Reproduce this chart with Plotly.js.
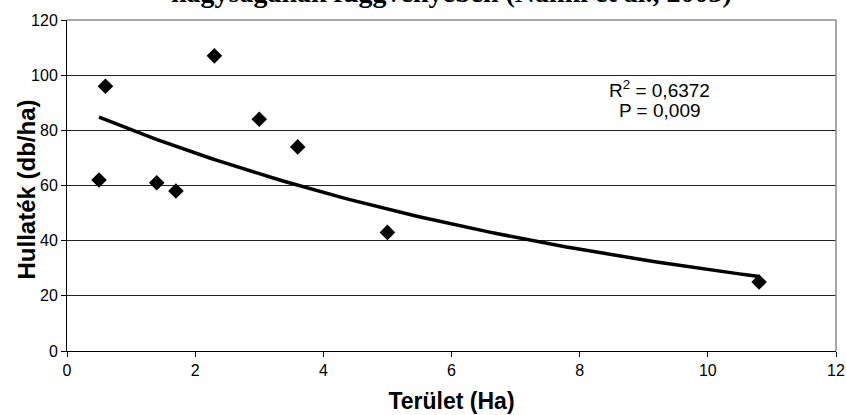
<!DOCTYPE html>
<html>
<head>
<meta charset="utf-8">
<script src="https://cdn.plot.ly/plotly-3.0.1.min.js"></script>
<style>html,body{margin:0;padding:0;background:#fff;} #chart{width:846px;height:415px;}</style>
</head>
<body>
<div id="chart"></div>
<script>
// Data
const areaHa = [0.5, 0.6, 1.4, 1.7, 2.3, 3.0, 3.6, 5.0, 10.8];
const litterPerHa = [62, 96, 61, 58, 107, 84, 74, 43, 25];
const xTicks = [0, 2, 4, 6, 8, 10, 12];
const yTicks = [0, 20, 40, 60, 80, 100, 120];
const titleText = "nagyságának függvényében (Nanni et al., 2003)";
const xTitleText = "Terület (Ha)";
const yTitleText = "Hullaték (db/ha)";
const statsText = ["R<sup>2</sup> = 0,6372", "P = 0,009"];

// Exponential trendline (least squares on ln y, as a spreadsheet does)
function expFit(xs, ys) {
  const n = xs.length;
  const ly = ys.map(Math.log);
  const mx = xs.reduce((a, b) => a + b, 0) / n;
  const my = ly.reduce((a, b) => a + b, 0) / n;
  let sxy = 0, sxx = 0;
  for (let i = 0; i < n; i++) { sxy += (xs[i] - mx) * (ly[i] - my); sxx += (xs[i] - mx) ** 2; }
  const b = sxy / sxx;
  const a = Math.exp(my - b * mx);
  return { a, b };
}
const fit = expFit(areaHa, litterPerHa);
const xMin = Math.min(...areaHa), xMax = Math.max(...areaHa);
const trendX = [], trendY = [];
for (let i = 0; i <= 100; i++) {
  const x = xMin + (xMax - xMin) * i / 100;
  trendX.push(x);
  trendY.push(fit.a * Math.exp(fit.b * x));
}

const sans = "'Liberation Sans', Arial, sans-serif";
const tickFont = { family: "'Liberation Sans Narrow', 'Arial Narrow', 'Liberation Sans', Arial, sans-serif", size: 16, color: "#000" };
const axTitleFont = { family: sans, size: 23, color: "#000" };

const traces = [
  {
    x: trendX, y: trendY, type: "scatter", mode: "lines",
    line: { color: "#000", width: 3.5 }, hoverinfo: "skip", showlegend: false
  },
  {
    x: areaHa, y: litterPerHa, type: "scatter", mode: "markers",
    marker: { symbol: "diamond", size: 12, color: "#000" }, showlegend: false
  }
];

const layout = {
  width: 846, height: 415,
  margin: { l: 67, r: 10, t: 20, b: 64 },
  paper_bgcolor: "#fff", plot_bgcolor: "#fff",
  showlegend: false,
  xaxis: {
    range: [0, 12], tickvals: xTicks, ticktext: xTicks.map(String),
    showgrid: false, zeroline: false,
    showline: true, linecolor: "#000", linewidth: 1,
    ticks: "outside", ticklen: 5, tickcolor: "#000", tickwidth: 1,
    tickfont: tickFont,
    title: { text: "<b>" + xTitleText + "</b>", font: axTitleFont, standoff: 14 }
  },
  yaxis: {
    range: [0, 120], tickvals: yTicks, ticktext: yTicks.map(String),
    showgrid: true, gridcolor: "#222", gridwidth: 1, zeroline: false,
    showline: true, linecolor: "#000", linewidth: 1,
    ticks: "outside", ticklen: 5, tickcolor: "#000", tickwidth: 1,
    tickfont: tickFont
  },
  shapes: [
    { type: "line", xref: "paper", yref: "paper", x0: 0, x1: 1, y0: 1, y1: 1, line: { color: "#8a8a8a", width: 1.5 }, layer: "above" },
    { type: "line", xref: "paper", yref: "paper", x0: 1, x1: 1, y0: 0, y1: 1, line: { color: "#8a8a8a", width: 1.5 }, layer: "above" }
  ],
  annotations: [
    {
      text: "<b>" + titleText + "</b>", xref: "paper", yref: "paper", x: 0.5, y: 1,
      xanchor: "center", yanchor: "bottom", yshift: 10, showarrow: false,
      font: { family: "'Liberation Serif', 'Times New Roman', serif", size: 28, color: "#000" }
    },
    {
      text: "<b>" + yTitleText + "</b>", xref: "paper", yref: "paper", x: 0, y: 0.5,
      xanchor: "center", yanchor: "middle", xshift: -41, yshift: -4, textangle: -90,
      showarrow: false, font: { family: sans, size: 24, color: "#000" }
    },
    {
      text: statsText[0], xref: "x", yref: "y", x: 9.25, y: 95.1, showarrow: false,
      font: { family: sans, size: 19, color: "#000" }
    },
    {
      text: statsText[1], xref: "x", yref: "y", x: 9.25, y: 87.2, showarrow: false,
      font: { family: sans, size: 19, color: "#000" }
    }
  ]
};

Plotly.newPlot("chart", traces, layout, { staticPlot: true, displayModeBar: false });
</script>
</body>
</html>
